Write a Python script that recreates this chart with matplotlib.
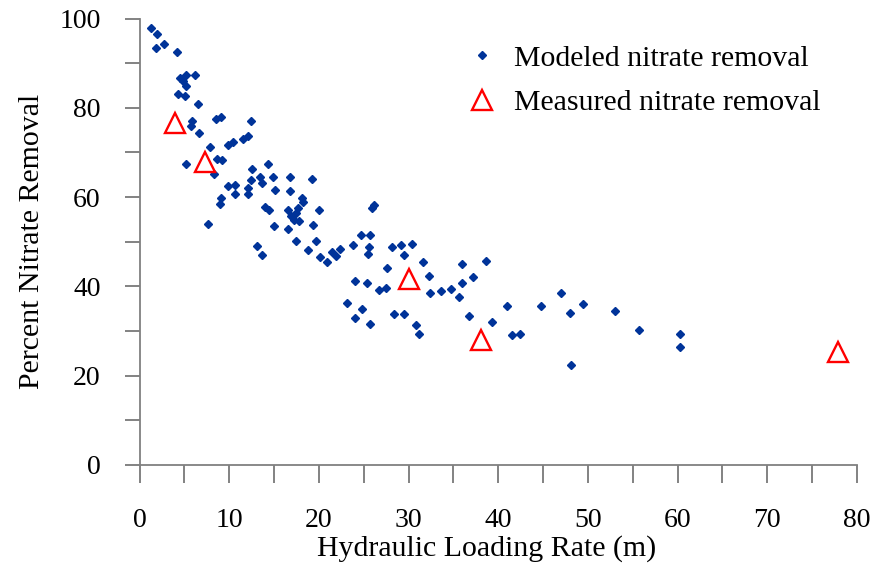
import numpy as np
import matplotlib
matplotlib.use('Agg')
import matplotlib.pyplot as plt
from matplotlib.ticker import MultipleLocator

# modeled nitrate removal (hydraulic loading rate, percent removal)
model_x = [1.23, 1.99, 1.87, 2.73, 4.15, 4.49, 5.24, 6.17, 4.86, 5.13,
           4.30, 5.05, 6.47, 5.87, 5.69, 6.59, 8.53, 9.05, 12.38, 7.82,
           9.84, 10.47, 11.52, 12.15, 5.24, 8.67, 9.20, 8.30, 12.53, 14.28,
           14.89, 13.46, 12.42, 13.65, 9.91, 10.66, 10.70, 12.15, 12.15, 15.15,
           9.09, 8.94, 13.99, 14.40, 14.96, 7.67, 13.09, 13.65, 16.75, 19.26,
           16.75, 18.14, 18.25, 16.6, 17.7, 17.4, 16.9, 17.2, 17.8, 19.97,
           16.57, 19.33, 17.50, 19.67, 18.77, 20.12, 20.87, 21.51, 22.36, 21.88,
           23.75, 24.68, 25.69, 25.92, 26.18, 25.55, 25.44, 28.13, 29.17, 30.37,
           29.47, 31.60, 27.60, 32.24, 36.0, 36.0, 24.01, 25.36, 26.74, 27.49,
           32.43, 33.66, 34.71, 35.61, 23.11, 24.76, 24.01, 25.73, 28.42, 29.47,
           30.78, 31.16, 38.6, 37.2, 36.7, 39.3, 41.0, 41.5, 42.4, 44.8,
           47.0, 48.0, 49.4, 48.1, 53.0, 55.7, 60.3, 60.3]
model_y = [97.9, 96.6, 93.3, 94.3, 92.5, 86.7, 87.4, 87.4, 85.9, 84.8,
           83.0, 82.6, 80.9, 77.0, 75.9, 74.4, 77.6, 78.0, 77.0, 71.2,
           71.7, 72.4, 73.1, 73.6, 67.4, 68.6, 68.2, 65.2, 66.3, 67.4,
           64.6, 64.5, 63.9, 63.2, 62.4, 62.8, 60.7, 62.0, 60.7, 61.6,
           59.8, 58.5, 57.8, 57.0, 53.5, 54.0, 49.0, 47.1, 64.6, 64.0,
           61.3, 59.8, 59.0, 57.2, 57.6, 56.4, 55.7, 54.9, 54.6, 57.2,
           52.9, 53.8, 50.1, 50.1, 48.1, 46.6, 45.4, 47.8, 48.4, 46.7,
           49.2, 51.6, 51.6, 57.6, 58.3, 48.9, 47.3, 48.8, 49.3, 49.5,
           47.1, 45.4, 44.1, 42.4, 45.1, 40.7, 41.3, 40.7, 39.2, 39.6,
           38.6, 39.0, 39.4, 37.6, 36.3, 34.9, 32.9, 31.5, 33.9, 33.9,
           31.4, 29.4, 45.7, 42.1, 33.3, 32.0, 35.7, 29.1, 29.3, 35.5,
           38.5, 34.0, 36.0, 22.3, 34.5, 30.3, 29.3, 26.5]

# measured nitrate removal
meas_x = [4.0, 7.3, 30.1, 38.1, 77.9]
meas_y = [76.6, 67.9, 41.6, 28.0, 25.2]

plt.rcParams['font.family'] = ['Liberation Serif', 'DejaVu Serif']

fig = plt.figure(figsize=(8.73, 5.66), dpi=100)
ax = fig.add_axes([139.5 / 873, 101 / 566, 717.5 / 873, 446.5 / 566])

ax.plot(model_x, model_y, linestyle='none', marker='D', markersize=4.2,
        color='#003399', label='Modeled nitrate removal')
ax.plot(meas_x, meas_y, linestyle='none', marker='^', markersize=15,
        markerfacecolor='none', markeredgecolor='#ff0000', markeredgewidth=1.7,
        label='Measured nitrate removal')

ax.set_xlim(0, 80)
ax.set_ylim(0, 100)
ax.xaxis.set_major_locator(MultipleLocator(10))
ax.xaxis.set_minor_locator(MultipleLocator(5))
ax.yaxis.set_major_locator(MultipleLocator(20))
ax.yaxis.set_minor_locator(MultipleLocator(10))

for s in ['top', 'right']:
    ax.spines[s].set_visible(False)
for s in ['left', 'bottom']:
    ax.spines[s].set_color('#808080')
    ax.spines[s].set_linewidth(1.3)

ax.tick_params(which='both', direction='out', width=1.1,
               color='#606060', labelsize=20, labelcolor='black')
ax.tick_params(axis='y', which='both', length=11, pad=17)
ax.tick_params(axis='x', which='both', length=13, pad=18)

ax.set_xlabel('Hydraulic Loading Rate (m)', fontsize=21.5)
ax.xaxis.set_label_coords(0.484, -0.158)
ax.set_ylabel('Percent Nitrate Removal', fontsize=21.5, labelpad=10)

ax.legend(loc='upper left', bbox_to_anchor=(0.43, 0.968), frameon=False,
          fontsize=21.5, handletextpad=0.3, labelspacing=0.6,
          borderaxespad=0.0, handlelength=1.5)

fig.savefig('out.png', dpi=100)
